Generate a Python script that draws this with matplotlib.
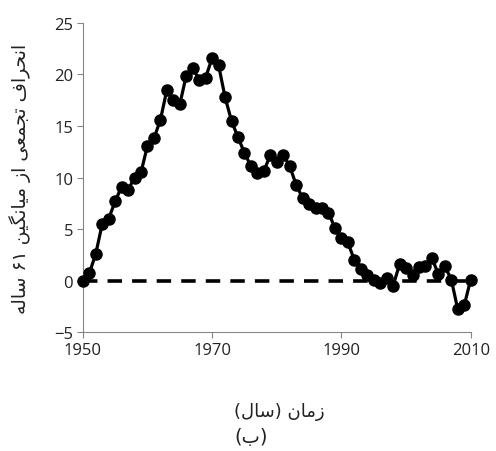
import matplotlib
matplotlib.use("Agg")
import matplotlib.pyplot as plt

years = list(range(1950, 2011))
cum_dev = [
    0.0, 0.7, 2.6, 5.5, 6.0, 7.7, 9.1, 8.8, 10.0, 10.5,
    13.1, 13.8, 15.6, 18.5, 17.5, 17.1, 19.9, 20.6, 19.5, 19.7,
    21.6, 20.9, 17.8, 15.5, 13.9, 12.4, 11.1, 10.4, 10.6, 12.2,
    11.5, 12.2, 11.1, 9.3, 8.0, 7.4, 7.0, 7.0, 6.6, 5.1,
    4.1, 3.7, 2.0, 1.1, 0.5, 0.1, -0.2, 0.3, -0.5, 1.6,
    1.2, 0.5, 1.3, 1.4, 2.2, 0.6, 1.4, 0.1, -2.8, -2.4,
    0.1,
]
mean_years = [1950, 2010]
mean_values = [0, 0]

x_ticks = [1950, 1970, 1990, 2010]
y_ticks = [-5, 0, 5, 10, 15, 20, 25]

ylabel_fa = "انحراف تجمعی از میانگین ۶۱ ساله"
xlabel_fa = "زمان (سال)"
panel_fa = "(ب)"

# matplotlib has no Arabic shaping, so use presentation forms + visual order
FORMS = {
    "ا": ("\uFE8D", "\uFE8E", None, None),
    "ب": ("\uFE8F", "\uFE90", "\uFE91", "\uFE92"),
    "ت": ("\uFE95", "\uFE96", "\uFE97", "\uFE98"),
    "ج": ("\uFE9D", "\uFE9E", "\uFE9F", "\uFEA0"),
    "ح": ("\uFEA1", "\uFEA2", "\uFEA3", "\uFEA4"),
    "ر": ("\uFEAD", "\uFEAE", None, None),
    "ز": ("\uFEAF", "\uFEB0", None, None),
    "س": ("\uFEB1", "\uFEB2", "\uFEB3", "\uFEB4"),
    "ع": ("\uFEC9", "\uFECA", "\uFECB", "\uFECC"),
    "ف": ("\uFED1", "\uFED2", "\uFED3", "\uFED4"),
    "ل": ("\uFEDD", "\uFEDE", "\uFEDF", "\uFEE0"),
    "م": ("\uFEE1", "\uFEE2", "\uFEE3", "\uFEE4"),
    "ن": ("\uFEE5", "\uFEE6", "\uFEE7", "\uFEE8"),
    "ه": ("\uFEE9", "\uFEEA", "\uFEEB", "\uFEEC"),
    "ی": ("\uFBFC", "\uFBFD", "\uFBFE", "\uFBFF"),
    "گ": ("\uFB92", "\uFB93", "\uFB94", "\uFB95"),
}


def shape(text):
    out = []
    for i, ch in enumerate(text):
        if ch not in FORMS:
            out.append(ch)
            continue
        prev = text[i - 1] if i > 0 else ""
        nxt = text[i + 1] if i + 1 < len(text) else ""
        joins_prev = prev in FORMS and FORMS[prev][2] is not None
        joins_next = nxt in FORMS and FORMS[ch][2] is not None
        iso, fin, ini, med = FORMS[ch]
        if joins_prev and joins_next:
            out.append(med)
        elif joins_prev:
            out.append(fin)
        elif joins_next:
            out.append(ini)
        else:
            out.append(iso)
    # visual order: reverse, keep digit runs LTR, mirror brackets
    runs, buf = [], ""
    for ch in out:
        if ch in "۰۱۲۳۴۵۶۷۸۹":
            buf += ch
        else:
            if buf:
                runs.append(buf)
                buf = ""
            runs.append(ch)
    if buf:
        runs.append(buf)
    mirror = {"(": ")", ")": "("}
    return "".join(mirror.get(r, r) for r in reversed(runs))


axis_gray = "#868686"
fig = plt.figure(figsize=(4.96, 4.52), dpi=100)
ax = fig.add_axes([0.167, 0.263, 0.782, 0.684])

ax.plot(mean_years, mean_values, color="black", linewidth=2.6,
        dashes=(4, 2.8), dash_capstyle="butt", zorder=2)
ax.plot(years, cum_dev, color="black", linewidth=2.3, marker="o",
        markersize=8, clip_on=False, zorder=3)

ax.set_xlim(1950, 2010)
ax.set_ylim(-5, 25)
ax.set_xticks(x_ticks)
ax.set_yticks(y_ticks)

for side in ["top", "right"]:
    ax.spines[side].set_visible(False)
for side in ["left", "bottom"]:
    ax.spines[side].set_color(axis_gray)
    ax.spines[side].set_linewidth(0.8)
ax.tick_params(axis="both", direction="out", length=4, width=0.8,
               color=axis_gray, labelsize=12, labelcolor="#222222", pad=3)
for lbl in ax.get_xticklabels() + ax.get_yticklabels():
    lbl.set_family("Open Sans")

fig.text(0.040, 0.604, shape(ylabel_fa), rotation=90, ha="center",
         va="center", fontsize=13.5, family="DejaVu Sans", color="#222222")
fig.text(0.5625, 0.088, shape(xlabel_fa), ha="center", va="center",
         fontsize=13, family="DejaVu Sans", color="#222222")
fig.text(0.506, 0.031, shape(panel_fa), ha="center", va="center",
         fontsize=14, family="DejaVu Sans", color="#222222")

fig.savefig("out.png", dpi=100)
